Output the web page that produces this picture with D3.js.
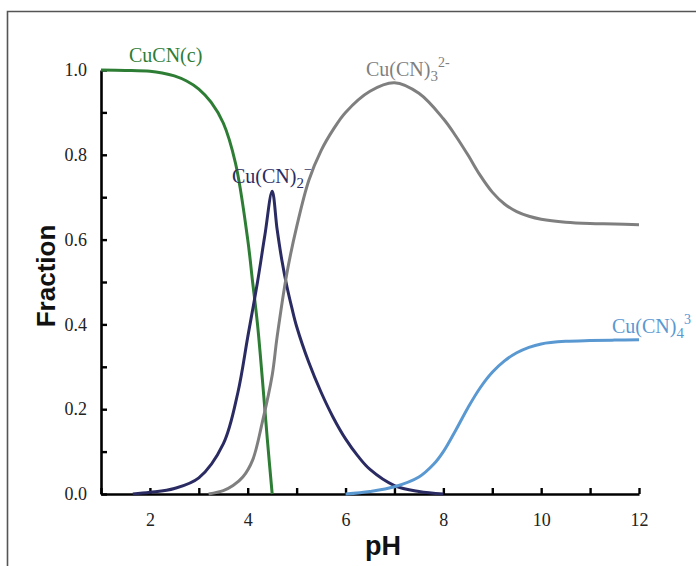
<!DOCTYPE html>
<html>
<head>
<meta charset="utf-8">
<script src="https://cdn.jsdelivr.net/npm/d3@7"></script>
<style>
  body { margin: 0; background: #fff; }
  svg { display: block; }
  .tick text { font-family: "Liberation Serif", "Times New Roman", serif; }
</style>
</head>
<body>
<svg id="chart" width="696" height="566"></svg>
<script>
'use strict';

// pH vs fraction
const cucnPH = [1.0, 1.5, 2.0, 2.25, 2.5, 2.75, 3.0, 3.25, 3.5, 3.75, 4.0, 4.1, 4.2, 4.3, 4.4, 4.5];
const cucnF  = [1.0, 0.999, 0.997, 0.993, 0.986, 0.974, 0.955, 0.924, 0.875, 0.78, 0.6, 0.5, 0.4, 0.27, 0.13, 0.0];

const cn2PH = [1.65, 2.0, 2.5, 3.0, 3.5, 3.8, 4.0, 4.2, 4.35, 4.5, 4.6, 4.7, 4.8, 4.9, 5.0, 5.25, 5.5, 5.75, 6.0, 6.25, 6.5, 7.0, 7.5, 8.0];
const cn2F  = [0.0, 0.004, 0.013, 0.038, 0.118, 0.24, 0.37, 0.5, 0.61, 0.714, 0.625, 0.55, 0.49, 0.44, 0.395, 0.31, 0.24, 0.18, 0.13, 0.09, 0.058, 0.02, 0.006, 0.0];

const cn3PH = [3.2, 3.5, 3.7, 3.9, 4.1, 4.3, 4.5, 4.6, 4.8, 5.0, 5.25, 5.5, 5.75, 6.0, 6.5, 7.0, 7.5, 8.0, 8.25, 8.5, 8.75, 9.0, 9.25, 9.5, 9.75, 10.0, 10.5, 11.0, 11.5, 12.0];
const cn3F  = [0.0, 0.008, 0.02, 0.04, 0.08, 0.17, 0.28, 0.37, 0.52, 0.63, 0.74, 0.81, 0.86, 0.9, 0.95, 0.97, 0.945, 0.885, 0.845, 0.8, 0.752, 0.712, 0.684, 0.666, 0.655, 0.648, 0.641, 0.638, 0.637, 0.635];

const cn4PH = [6.0, 6.5, 7.0, 7.5, 7.8, 8.0, 8.25, 8.5, 8.75, 9.0, 9.25, 9.5, 9.75, 10.0, 10.5, 11.0, 11.5, 12.0];
const cn4F  = [0.0, 0.006, 0.017, 0.04, 0.07, 0.1, 0.15, 0.203, 0.25, 0.287, 0.314, 0.333, 0.346, 0.354, 0.36, 0.362, 0.363, 0.364];

const xTicks = d3.range(1, 13);
const yTicks = d3.range(0, 11).map(d => d / 10);

const svg = d3.select('#chart');

// outer frame (left + top edges only)
svg.append('path')
	.attr('d', 'M7.5,566V11.5H696')
	.attr('fill', 'none')
	.attr('stroke', '#555')
	.attr('stroke-width', 1.6)
;

const x = d3.scaleLinear().domain([1, 12]).range([101, 639]);
const y = d3.scaleLinear().domain([0, 1]).range([494, 70]);

const serif = 'Liberation Serif, Times New Roman, serif';
const sans = 'Liberation Sans, Arial, sans-serif';

// x axis
const gx = svg.append('g')
	.attr('transform', 'translate(0,' + y(0) + ')')
	.call(d3.axisBottom(x)
		.tickValues(xTicks)
		.tickSizeInner(-6)
		.tickSizeOuter(0)
		.tickFormat(d => d % 2 === 0 ? d : ''))
	.attr('font-family', serif)
	.attr('font-size', 18)
;
gx.select('.domain').attr('stroke-width', 2.6).attr('stroke', '#000');
gx.selectAll('.tick line').attr('stroke-width', 2.4).attr('stroke', '#000');
gx.selectAll('.tick text')
	.attr('y', 32)
	.attr('dy', 0)
	.attr('fill', '#222')
;

// y axis
const gy = svg.append('g')
	.attr('transform', 'translate(' + x(1) + ',0)')
	.call(d3.axisLeft(y)
		.tickValues(yTicks)
		.tickSizeInner(-6)
		.tickSizeOuter(0)
		.tickFormat(d => Math.round(d * 10) % 2 === 0 ? d3.format('.1f')(d) : ''))
	.attr('font-family', serif)
	.attr('font-size', 18)
;
gy.select('.domain').attr('stroke-width', 2.6).attr('stroke', '#000');
gy.selectAll('.tick line').attr('stroke-width', 2.4).attr('stroke', '#000');
gy.selectAll('.tick text')
	.attr('x', -14)
	.attr('dy', '0.32em')
	.attr('fill', '#222')
;

// axis titles
svg.append('text')
	.attr('transform', 'translate(55,276) rotate(-90)')
	.attr('text-anchor', 'middle')
	.attr('font-family', sans)
	.attr('font-weight', 'bold')
	.attr('font-size', 26)
	.attr('fill', '#111')
	.text('Fraction')
;
svg.append('text')
	.attr('x', 383)
	.attr('y', 555)
	.attr('text-anchor', 'middle')
	.attr('font-family', sans)
	.attr('font-weight', 'bold')
	.attr('font-size', 27)
	.attr('fill', '#111')
	.text('pH')
;

// curves
const series = [
	{ph: cucnPH, f: cucnF, color: '#2e7d35'},
	{ph: cn2PH, f: cn2F, color: '#2b2b63'},
	{ph: cn3PH, f: cn3F, color: '#7f7f7f'},
	{ph: cn4PH, f: cn4F, color: '#5a98d2'},
];

const line = d3.line()
	.x(d => x(d[0]))
	.y(d => y(d[1]))
	.curve(d3.curveCatmullRom.alpha(0.5))
;

svg.append('g')
	.selectAll('path')
	.data(series)
	.join('path')
	.attr('d', s => line(d3.zip(s.ph, s.f)))
	.attr('fill', 'none')
	.attr('stroke', s => s.color)
	.attr('stroke-width', 3)
	.attr('stroke-linejoin', 'round')
;

// species labels
function species(px, py, color, base, sub, sup) {
	const t = svg.append('text')
		.attr('x', px)
		.attr('y', py)
		.attr('font-family', serif)
		.attr('font-size', 20)
		.attr('fill', color)
	;
	t.append('tspan').text(base);
	if (sub) t.append('tspan').attr('dy', 5).attr('font-size', 15).text(sub);
	if (sup) t.append('tspan').attr('dy', sub ? -14 : -8).attr('font-size', 14).text(sup);
}

species(129, 62, '#2e7d35', 'CuCN(c)');
species(366, 76, '#7f7f7f', 'Cu(CN)', '3', '2-');
species(232, 183, '#2b2b63', 'Cu(CN)', '2', '−');
species(612, 333, '#5a98d2', 'Cu(CN)', '4', '3');
</script>
</body>
</html>
